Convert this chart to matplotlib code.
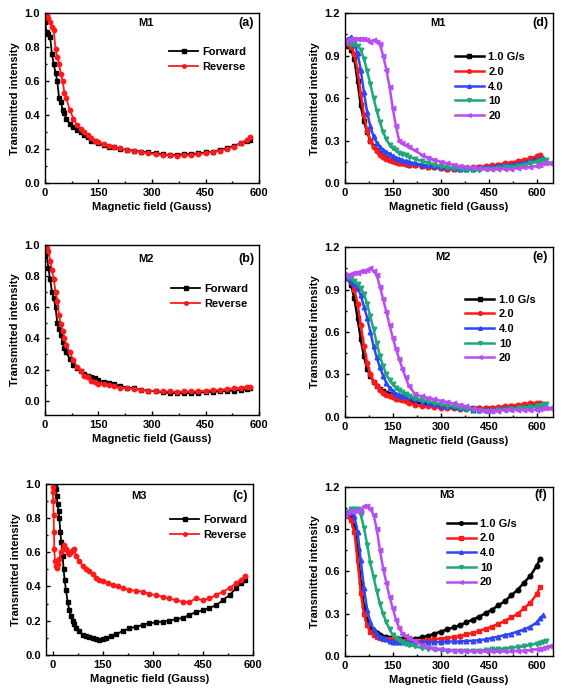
import numpy as np
import matplotlib
matplotlib.use("Agg")
import matplotlib.pyplot as plt
from matplotlib.ticker import MultipleLocator, AutoMinorLocator

plt.rcParams['font.family'] = ['Liberation Sans', 'DejaVu Sans']
plt.rcParams['font.weight'] = 'bold'
plt.rcParams['font.size'] = 8
plt.rcParams['axes.labelweight'] = 'bold'

# ---- panel (a) M1 : forward / reverse scans ----
field_m1 = [0, 5, 10, 15, 20, 25, 30, 35, 40, 45, 50, 55, 60, 70, 80, 90, 100, 110, 120, 130,
            140, 150, 165, 180, 195, 210, 230, 250, 270, 290, 310, 330, 350, 370, 390, 410, 430,
            450, 470, 490, 510, 530, 550, 565, 575]
m1_forward = [0.95, 0.89, 0.88, 0.86, 0.76, 0.70, 0.65, 0.60, 0.50, 0.48, 0.43, 0.41, 0.38, 0.35,
              0.33, 0.31, 0.30, 0.28, 0.27, 0.25, 0.245, 0.235, 0.225, 0.215, 0.21, 0.20, 0.195,
              0.19, 0.185, 0.18, 0.175, 0.17, 0.165, 0.165, 0.17, 0.17, 0.175, 0.18, 0.185, 0.195,
              0.205, 0.22, 0.235, 0.245, 0.255]
m1_reverse = [0.98, 0.99, 0.97, 0.95, 0.92, 0.90, 0.79, 0.74, 0.70, 0.64, 0.60, 0.53, 0.50, 0.43,
              0.38, 0.34, 0.32, 0.30, 0.28, 0.265, 0.25, 0.24, 0.23, 0.22, 0.21, 0.205, 0.195,
              0.19, 0.18, 0.175, 0.17, 0.165, 0.165, 0.16, 0.165, 0.165, 0.17, 0.175, 0.185, 0.19,
              0.20, 0.215, 0.235, 0.255, 0.27]

# ---- panel (b) M2 ----
field_m2 = field_m1
m2_forward = [0.93, 0.95, 0.85, 0.78, 0.70, 0.66, 0.60, 0.50, 0.46, 0.42, 0.38, 0.34, 0.31, 0.27,
              0.23, 0.21, 0.19, 0.17, 0.16, 0.15, 0.145, 0.135, 0.12, 0.115, 0.105, 0.095, 0.085,
              0.08, 0.07, 0.065, 0.06, 0.055, 0.05, 0.05, 0.048, 0.05, 0.052, 0.055, 0.058, 0.06,
              0.063, 0.066, 0.07, 0.075, 0.08]
m2_reverse = [0.97, 0.98, 0.96, 0.90, 0.84, 0.78, 0.70, 0.64, 0.55, 0.49, 0.45, 0.40, 0.36, 0.31,
              0.26, 0.22, 0.19, 0.16, 0.15, 0.13, 0.12, 0.11, 0.105, 0.10, 0.095, 0.085, 0.08,
              0.075, 0.07, 0.065, 0.062, 0.06, 0.06, 0.058, 0.06, 0.06, 0.062, 0.065, 0.068, 0.07,
              0.075, 0.08, 0.085, 0.09, 0.09]

# ---- panel (c) M3 ----
field_m3_fwd = [8, 10, 12, 15, 18, 20, 23, 26, 30, 33, 36, 40, 45, 50, 55, 60, 65, 70, 80, 90, 100,
                110, 120, 130, 140, 150, 160, 175, 190, 210, 230, 250, 270, 290, 310, 330, 350,
                370, 390, 410, 430, 450, 470, 490, 510, 530, 550, 565, 575]
m3_forward = [1.0, 0.97, 0.93, 0.88, 0.84, 0.80, 0.72, 0.66, 0.58, 0.50, 0.44, 0.38, 0.31, 0.26,
              0.23, 0.20, 0.18, 0.16, 0.14, 0.115, 0.11, 0.105, 0.10, 0.095, 0.09, 0.095, 0.10,
              0.11, 0.12, 0.14, 0.155, 0.165, 0.175, 0.185, 0.19, 0.195, 0.20, 0.21, 0.215, 0.235,
              0.25, 0.26, 0.275, 0.29, 0.32, 0.35, 0.39, 0.42, 0.44]
field_m3_rev = [0, 1, 2, 3, 4, 5, 7, 10, 13, 16, 20, 25, 30, 35, 40, 45, 50, 55, 60, 65, 70, 80, 90,
                100, 110, 120, 130, 140, 150, 165, 180, 195, 210, 230, 250, 270, 290, 310, 330,
                350, 370, 390, 410, 430, 450, 470, 490, 510, 530, 550, 565, 575]
m3_reverse = [0.98, 0.95, 0.90, 0.82, 0.72, 0.62, 0.55, 0.52, 0.51, 0.53, 0.56, 0.60, 0.62, 0.64,
              0.62, 0.60, 0.59, 0.60, 0.61, 0.62, 0.58, 0.55, 0.52, 0.50, 0.49, 0.47, 0.45, 0.44,
              0.43, 0.42, 0.41, 0.40, 0.39, 0.38, 0.375, 0.37, 0.355, 0.35, 0.34, 0.33, 0.32, 0.31,
              0.31, 0.33, 0.32, 0.33, 0.35, 0.37, 0.39, 0.42, 0.44, 0.46]

# ---- sweep-rate panels (d), (e), (f) ----
rates = ['1.0 G/s', '2.0', '4.0', '10', '20']
field_sw = [0, 10, 20, 30, 40, 50, 60, 70, 80, 90, 100, 110, 120, 130, 140, 150, 160, 170, 180, 190,
            200, 220, 240, 260, 280, 300, 320, 340, 360, 380, 400, 420, 440, 460, 480, 500, 520,
            540, 560, 580, 600, 610, 620, 630, 640, 650]

d_1 = [1.0, 0.97, 0.94, 0.88, 0.72, 0.55, 0.44, 0.36, 0.30, 0.26, 0.235, 0.21, 0.19, 0.175, 0.165,
       0.155, 0.15, 0.145, 0.14, 0.135, 0.13, 0.125, 0.12, 0.115, 0.11, 0.105, 0.10, 0.10, 0.10,
       0.105, 0.105, 0.11, 0.115, 0.12, 0.125, 0.13, 0.135, 0.145, 0.155, 0.165, 0.175, 0.18]
d_2 = [1.0, 0.98, 0.96, 0.91, 0.80, 0.63, 0.48, 0.37, 0.30, 0.255, 0.225, 0.20, 0.185, 0.17, 0.16,
       0.155, 0.15, 0.145, 0.14, 0.135, 0.13, 0.125, 0.12, 0.115, 0.11, 0.105, 0.10, 0.10, 0.10,
       0.105, 0.11, 0.115, 0.12, 0.125, 0.13, 0.14, 0.145, 0.155, 0.165, 0.175, 0.19, 0.195]
d_4 = [1.0, 1.02, 1.03, 0.98, 0.92, 0.80, 0.64, 0.50, 0.40, 0.33, 0.285, 0.255, 0.235, 0.22, 0.205,
       0.19, 0.18, 0.17, 0.16, 0.155, 0.15, 0.14, 0.13, 0.125, 0.12, 0.115, 0.11, 0.105, 0.10, 0.10,
       0.10, 0.105, 0.11, 0.115, 0.12, 0.125, 0.13, 0.135, 0.145, 0.155, 0.165, 0.17, 0.175]
d_10 = [1.0, 0.99, 0.98, 0.98, 0.97, 0.94, 0.88, 0.79, 0.70, 0.60, 0.51, 0.43, 0.36, 0.31, 0.27,
        0.245, 0.23, 0.215, 0.205, 0.195, 0.185, 0.17, 0.155, 0.145, 0.13, 0.12, 0.11, 0.105, 0.10,
        0.095, 0.095, 0.095, 0.10, 0.10, 0.105, 0.11, 0.115, 0.12, 0.13, 0.14, 0.15, 0.155, 0.16,
        0.165]
d_20 = [1.0, 1.01, 1.02, 1.02, 1.02, 1.02, 1.02, 1.01, 1.0, 1.01, 1.0, 0.98, 0.90, 0.80, 0.68,
        0.53, 0.40, 0.30, 0.28, 0.27, 0.255, 0.23, 0.20, 0.18, 0.165, 0.15, 0.14, 0.13, 0.12,
        0.115, 0.11, 0.105, 0.10, 0.10, 0.10, 0.10, 0.10, 0.105, 0.11, 0.115, 0.12, 0.13, 0.14,
        0.14, 0.145]

e_1 = [1.0, 0.98, 0.93, 0.84, 0.70, 0.55, 0.43, 0.34, 0.29, 0.25, 0.22, 0.20, 0.185, 0.17, 0.16,
       0.15, 0.14, 0.135, 0.125, 0.12, 0.115, 0.10, 0.095, 0.09, 0.085, 0.08, 0.075, 0.07, 0.065,
       0.06, 0.06, 0.06, 0.06, 0.065, 0.065, 0.07, 0.075, 0.075, 0.08, 0.085, 0.09, 0.09]
e_2 = [1.0, 0.98, 0.95, 0.90, 0.80, 0.65, 0.50, 0.38, 0.30, 0.25, 0.22, 0.19, 0.17, 0.155, 0.145,
       0.14, 0.13, 0.125, 0.12, 0.11, 0.10, 0.085, 0.075, 0.075, 0.07, 0.065, 0.06, 0.06, 0.055,
       0.055, 0.055, 0.06, 0.06, 0.065, 0.07, 0.075, 0.08, 0.085, 0.09, 0.095, 0.10, 0.10]
e_4 = [1.0, 0.98, 0.96, 0.94, 0.91, 0.86, 0.78, 0.70, 0.60, 0.50, 0.42, 0.35, 0.29, 0.24, 0.205,
       0.18, 0.165, 0.155, 0.15, 0.145, 0.14, 0.125, 0.115, 0.10, 0.09, 0.08, 0.075, 0.07, 0.065,
       0.06, 0.05, 0.05, 0.05, 0.05, 0.055, 0.06, 0.06, 0.065, 0.07, 0.075, 0.08, 0.085, 0.09]
e_10 = [1.0, 0.99, 0.98, 0.96, 0.94, 0.91, 0.87, 0.80, 0.71, 0.62, 0.52, 0.43, 0.36, 0.30, 0.26,
        0.23, 0.205, 0.19, 0.175, 0.16, 0.15, 0.135, 0.12, 0.11, 0.10, 0.09, 0.08, 0.075, 0.065,
        0.055, 0.05, 0.045, 0.04, 0.045, 0.05, 0.05, 0.055, 0.06, 0.065, 0.07, 0.075, 0.08, 0.085,
        0.09]
e_20 = [1.0, 1.0, 1.01, 1.02, 1.02, 1.03, 1.03, 1.04, 1.05, 1.03, 1.0, 0.92, 0.83, 0.74, 0.65,
        0.56, 0.48, 0.41, 0.34, 0.28, 0.22, 0.16, 0.145, 0.135, 0.125, 0.115, 0.105, 0.095, 0.085,
        0.075, 0.06, 0.05, 0.045, 0.045, 0.045, 0.05, 0.05, 0.05, 0.05, 0.05, 0.05, 0.055, 0.06,
        0.06, 0.06]

f_1 = [1.0, 1.0, 0.98, 0.92, 0.75, 0.52, 0.35, 0.26, 0.21, 0.18, 0.165, 0.15, 0.14, 0.135, 0.13,
       0.125, 0.12, 0.12, 0.12, 0.12, 0.12, 0.125, 0.135, 0.145, 0.16, 0.175, 0.19, 0.205, 0.22,
       0.24, 0.26, 0.28, 0.305, 0.33, 0.36, 0.39, 0.43, 0.47, 0.52, 0.57, 0.64, 0.69]
f_2 = [1.0, 0.99, 0.96, 0.88, 0.68, 0.45, 0.30, 0.22, 0.17, 0.15, 0.14, 0.13, 0.125, 0.12, 0.12,
       0.115, 0.115, 0.11, 0.11, 0.105, 0.105, 0.105, 0.11, 0.115, 0.12, 0.125, 0.13, 0.135, 0.145,
       0.155, 0.165, 0.18, 0.195, 0.21, 0.23, 0.25, 0.275, 0.30, 0.34, 0.38, 0.44, 0.49]
f_4 = [1.0, 1.01, 1.02, 0.99, 0.88, 0.68, 0.48, 0.33, 0.24, 0.19, 0.16, 0.14, 0.13, 0.12, 0.11,
       0.10, 0.10, 0.10, 0.10, 0.10, 0.10, 0.10, 0.10, 0.10, 0.10, 0.10, 0.105, 0.105, 0.105, 0.11,
       0.11, 0.115, 0.12, 0.13, 0.14, 0.15, 0.16, 0.175, 0.19, 0.21, 0.24, 0.27, 0.29]
f_10 = [1.0, 1.02, 1.04, 1.04, 1.04, 1.0, 0.91, 0.79, 0.66, 0.56, 0.46, 0.37, 0.30, 0.24, 0.19,
        0.15, 0.13, 0.115, 0.10, 0.09, 0.08, 0.07, 0.06, 0.055, 0.05, 0.045, 0.04, 0.04, 0.04, 0.04,
        0.04, 0.04, 0.045, 0.05, 0.05, 0.055, 0.06, 0.065, 0.07, 0.08, 0.09, 0.095, 0.10, 0.11]
f_20 = [1.0, 1.02, 1.03, 1.03, 1.03, 1.03, 1.06, 1.06, 1.04, 1.0, 0.90, 0.75, 0.62, 0.52, 0.42,
        0.34, 0.26, 0.20, 0.16, 0.145, 0.13, 0.11, 0.08, 0.065, 0.055, 0.05, 0.045, 0.04, 0.04,
        0.035, 0.035, 0.035, 0.035, 0.035, 0.035, 0.035, 0.035, 0.04, 0.04, 0.045, 0.05, 0.055,
        0.06, 0.065, 0.07, 0.08]

colors = ['black', '#FF1A1A', '#2F46F5', '#1FA87A', '#B84DF2']


def style_axes(ax, ymax, ystep, ymin=0.0, xmin=0, xmax=600):
    ax.set_xlim(xmin, xmax)
    ax.set_ylim(ymin, ymax)
    ax.xaxis.set_major_locator(MultipleLocator(150))
    ax.yaxis.set_major_locator(MultipleLocator(ystep))
    ax.xaxis.set_minor_locator(AutoMinorLocator(2))
    ax.yaxis.set_minor_locator(AutoMinorLocator(2))
    ax.tick_params(which='both', direction='in', top=False, right=False, labelsize=8)
    ax.tick_params(which='major', length=3, width=1)
    ax.tick_params(which='minor', length=1.5, width=1)
    for s in ax.spines.values():
        s.set_linewidth(1)
    ax.set_xlabel('Magnetic field (Gauss)', fontsize=8, fontweight='bold', labelpad=3)
    ax.set_ylabel('Transmitted intensity', fontsize=8, fontweight='bold', labelpad=3)
    for lab in ax.get_xticklabels() + ax.get_yticklabels():
        lab.set_fontweight('bold')


fig = plt.figure(figsize=(5.67, 6.96), dpi=100)

lw_left = 0.378
lw_right = 0.367
ax_a = fig.add_axes([0.079, 0.737, lw_left, 0.244])
ax_b = fig.add_axes([0.079, 0.404, lw_left, 0.244])
ax_c = fig.add_axes([0.081, 0.059, 0.365, 0.246])
ax_d = fig.add_axes([0.608, 0.737, lw_right, 0.244])
ax_e = fig.add_axes([0.608, 0.401, lw_right, 0.244])
ax_f = fig.add_axes([0.608, 0.057, lw_right, 0.244])

# left column: forward / reverse scans
left = [
    (ax_a, field_m1, m1_forward, field_m1, m1_reverse, 'M1', '(a)', (0.58, 0.80), (0.47, 0.94)),
    (ax_b, field_m2, m2_forward, field_m2, m2_reverse, 'M2', '(b)', (0.59, 0.77), (0.47, 0.92)),
    (ax_c, field_m3_fwd, m3_forward, field_m3_rev, m3_reverse, 'M3', '(c)', (0.60, 0.82), (0.45, 0.93)),
]
for ax, xf, yf, xr, yr, name, tag, legpos, namepos in left:
    ax.plot(xf, yf, '-s', color='black', lw=1.3, ms=3, label='Forward')
    ax.plot(xr, yr, '-o', color='#FF1A1A', lw=1.3, ms=3.2, label='Reverse')
    ax.text(namepos[0], namepos[1], name, transform=ax.transAxes, ha='center', va='center',
            fontsize=8, fontweight='bold')
    ax.text(0.94, namepos[1], tag, transform=ax.transAxes, ha='center', va='center',
            fontsize=9, fontweight='bold')
    ax.legend(loc='upper left', bbox_to_anchor=legpos, frameon=False, borderpad=0,
              borderaxespad=0, handlelength=2.6, handletextpad=0.4, labelspacing=0.45,
              numpoints=1, markerscale=0.8, prop={'weight': 'bold', 'size': 8})

style_axes(ax_a, 1.0, 0.2)
style_axes(ax_b, 1.0, 0.2, ymin=-0.09)
style_axes(ax_c, 1.0, 0.2, xmin=-20)

# right column: sweep rates
right = [
    (ax_d, [d_1, d_2, d_4, d_10, d_20], ['s', 'o', '^', 'v', '<'], 'M1', '(d)',
     (0.53, 0.77), (0.45, 0.94)),
    (ax_e, [e_1, e_2, e_4, e_10, e_20], ['s', 'o', '^', 'v', '<'], 'M2', '(e)',
     (0.58, 0.72), (0.47, 0.94)),
    (ax_f, [f_1, f_2, f_4, f_10, f_20], ['o', 's', '^', 'v', '<'], 'M3', '(f)',
     (0.49, 0.81), (0.49, 0.95)),
]
for ax, series, markers, name, tag, legpos, namepos in right:
    for y, c, m, lab in zip(series, colors, markers, rates):
        ax.plot(field_sw[:len(y)], y, '-', marker=m, color=c, lw=1.8, ms=3.3, label=lab)
    ax.text(namepos[0], namepos[1], name, transform=ax.transAxes, ha='center', va='center',
            fontsize=8, fontweight='bold')
    ax.text(0.94, namepos[1], tag, transform=ax.transAxes, ha='center', va='center',
            fontsize=9, fontweight='bold')
    ax.legend(loc='upper left', bbox_to_anchor=legpos, frameon=False, borderpad=0,
              borderaxespad=0, handlelength=2.6, handletextpad=0.4, labelspacing=0.42,
              numpoints=1, markerscale=0.8, prop={'weight': 'bold', 'size': 8})
    style_axes(ax, 1.2, 0.3, xmax=650)

fig.savefig('out.png', dpi=100)
